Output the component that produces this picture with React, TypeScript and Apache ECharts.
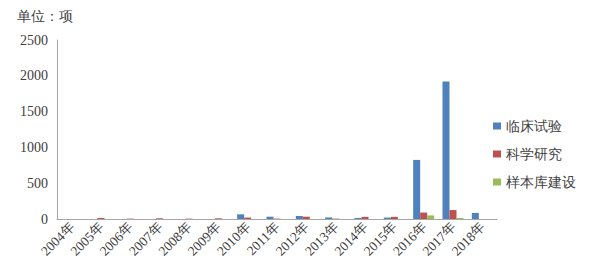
import React, { useEffect, useRef } from "react";
import * as echarts from "echarts";

const categories = ["2004年", "2005年", "2006年", "2007年", "2008年", "2009年", "2010年", "2011年", "2012年", "2013年", "2014年", "2015年", "2016年", "2017年", "2018年"];
const clinical = [0, 0, 0, 0, 0, 0, 65, 32, 42, 22, 15, 20, 825, 1920, 85];
const research = [0, 15, 5, 10, 5, 10, 20, 5, 32, 5, 30, 30, 90, 125, 0];
const biobank = [0, 0, 0, 0, 0, 0, 0, 0, 0, 0, 0, 0, 50, 15, 0];
const yTicks = { min: 0, max: 2500, interval: 500 };
const seriesNames = ["临床试验", "科学研究", "样本库建设"];
const unitLabel = "单位：项";

export default function App() {
  const ref = useRef<HTMLDivElement>(null);
  useEffect(() => {
    document.body.style.margin = "0";
    const chart = echarts.init(ref.current!, null, { renderer: "svg" });
    const serif = '"Times New Roman", "Liberation Serif", serif';
    const barBase = { type: "bar" as const, barWidth: 7, barGap: "0%" };
    chart.setOption({
      animation: false,
      backgroundColor: "#ffffff",
      color: ["#4f81bd", "#c0504d", "#9bbb59"],
      title: {
        text: unitLabel,
        left: 17,
        top: 9,
        padding: 0,
        textStyle: { fontSize: 13.5, fontWeight: "normal", color: "#404040", fontFamily: serif },
      },
      grid: { left: 57, right: 92, top: 40, bottom: 56, containLabel: false },
      legend: {
        orient: "vertical",
        left: 493,
        top: 119,
        padding: 0,
        itemWidth: 8,
        itemHeight: 7,
        itemGap: 14,
        icon: "rect",
        textStyle: { fontSize: 13.5, color: "#404040", fontFamily: serif },
        data: seriesNames,
      },
      xAxis: {
        type: "category",
        data: categories,
        axisLine: { lineStyle: { color: "#a6a6a6" } },
        axisTick: { show: false },
        axisLabel: {
          rotate: 45,
          interval: 0,
          fontSize: 13.5,
          color: "#404040",
          fontFamily: serif,
          margin: 6,
        },
      },
      yAxis: {
        type: "value",
        min: yTicks.min,
        max: yTicks.max,
        interval: yTicks.interval,
        axisLine: { show: true, lineStyle: { color: "#a6a6a6" } },
        axisTick: { show: false },
        splitLine: { show: false },
        axisLabel: {
          fontSize: 14,
          color: "#404040",
          fontFamily: serif,
          margin: 9,
          formatter: (v: number) => String(v),
        },
      },
      series: [
        { ...barBase, name: seriesNames[0], data: clinical },
        { ...barBase, name: seriesNames[1], data: research },
        { ...barBase, name: seriesNames[2], data: biobank },
      ],
    });
    return () => chart.dispose();
  }, []);
  return <div ref={ref} style={{ width: 589, height: 275 }} />;
}
